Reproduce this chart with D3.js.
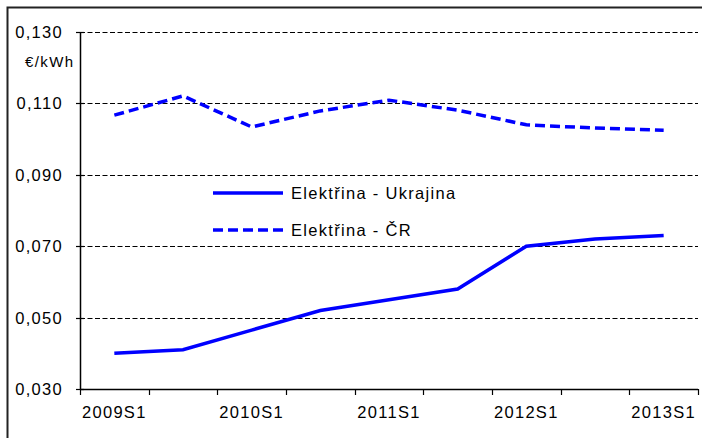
<!DOCTYPE html>
<html>
<head>
<meta charset="utf-8">
<script src="https://cdn.jsdelivr.net/npm/d3@7"></script>
<style>
  body { margin: 0; background: #fff; }
  svg { display: block; font-family: "Liberation Sans", Arial, sans-serif; }
</style>
</head>
<body>
<svg width="702" height="438"></svg>
<script>
// half-years on the x axis
var periods = ["2009S1", "2009S2", "2010S1", "2010S2", "2011S1", "2011S2", "2012S1", "2012S2", "2013S1"];
var tickLabels = ["2009S1", "2010S1", "2011S1", "2012S1", "2013S1"];
var yTicks = [0.03, 0.05, 0.07, 0.09, 0.11, 0.13];

// electricity price, EUR/kWh
var ukrajina = [0.040, 0.041, 0.0465, 0.052, 0.055, 0.058, 0.070, 0.072, 0.073];
var cr = [0.1067, 0.1121, 0.1034, 0.1079, 0.1109, 0.1081, 0.1040, 0.1031, 0.1025];

var seriesNames = ["Elektřina - Ukrajina", "Elektřina - ČR"];

var svg = d3.select("svg");
var blue = "#0000ff";
var fs = 16.5, ls = 1.3;

// outer frame
svg.append("rect")
    .attr("x", 7.5).attr("y", 7.5)
    .attr("width", 730).attr("height", 460)
    .attr("fill", "none")
    .attr("stroke", "#222")
    .attr("stroke-width", 2);

const plotL = 80, plotR = 698, plotT = 32, plotB = 389;

var x = d3.scaleBand().domain(periods).range([plotL, plotR]).padding(0);
var y = d3.scaleLinear().domain([0.03, 0.13]).range([plotB, plotT]);

var locale = d3.formatLocale({ decimal: ",", thousands: " ", grouping: [3], currency: ["", "€"] });
var fmt = locale.format(".3f");

// grid lines
svg.append("g")
    .selectAll("line")
    .data(yTicks.filter(d => d > 0.03))
    .join("line")
    .attr("x1", plotL).attr("x2", plotR)
    .attr("y1", d => Math.round(y(d)) + 0.5)
    .attr("y2", d => Math.round(y(d)) + 0.5)
    .attr("stroke", "#000")
    .attr("stroke-width", 1)
    .attr("stroke-dasharray", "5,2.5");

// y axis
var yAxis = svg.append("g");
yAxis.append("line")
    .attr("x1", plotL + 0.5).attr("x2", plotL + 0.5)
    .attr("y1", plotT).attr("y2", plotB)
    .attr("stroke", "#000").attr("stroke-width", 1.5);
yAxis.selectAll(".tk")
    .data(yTicks)
    .join("line")
    .attr("x1", plotL - 4).attr("x2", plotL + 4)
    .attr("y1", d => Math.round(y(d)) + 0.5)
    .attr("y2", d => Math.round(y(d)) + 0.5)
    .attr("stroke", "#000").attr("stroke-width", 1.2);
yAxis.selectAll("text")
    .data(yTicks)
    .join("text")
    .attr("x", 63)
    .attr("y", d => y(d))
    .attr("dy", "0.36em")
    .attr("text-anchor", "end")
    .attr("font-size", fs)
    .attr("letter-spacing", ls)
    .text(d => fmt(d));

svg.append("text")
    .attr("x", 25).attr("y", 67)
    .attr("font-size", 15)
    .attr("letter-spacing", 1.4)
    .text("€/kWh");

// x axis
var xAxis = svg.append("g");
xAxis.append("line")
    .attr("x1", plotL).attr("x2", plotR)
    .attr("y1", plotB + 0.5).attr("y2", plotB + 0.5)
    .attr("stroke", "#000").attr("stroke-width", 1.5);
var bounds = periods.map(p => x(p)).concat([plotR]);
xAxis.selectAll(".tk")
    .data(bounds)
    .join("line")
    .attr("x1", d => Math.round(d) + 0.5).attr("x2", d => Math.round(d) + 0.5)
    .attr("y1", plotB).attr("y2", plotB + 6)
    .attr("stroke", "#000").attr("stroke-width", 1.2);
xAxis.selectAll("text")
    .data(tickLabels)
    .join("text")
    .attr("x", d => x(d) + x.bandwidth() / 2)
    .attr("y", 418)
    .attr("text-anchor", "middle")
    .attr("font-size", fs)
    .attr("letter-spacing", ls)
    .text(d => d);

// lines
var line = d3.line()
    .x((d, i) => x(periods[i]) + x.bandwidth() / 2)
    .y(d => y(d));

svg.append("path")
    .attr("d", line(cr))
    .attr("fill", "none")
    .attr("stroke", blue)
    .attr("stroke-width", 3.5)
    .attr("stroke-dasharray", "10,5");

svg.append("path")
    .attr("d", line(ukrajina))
    .attr("fill", "none")
    .attr("stroke", blue)
    .attr("stroke-width", 3.5);

// legend
var legend = svg.append("g");
var legendY = [193, 230];
legend.selectAll("line")
    .data(seriesNames)
    .join("line")
    .attr("x1", 213).attr("x2", 283)
    .attr("y1", (d, i) => legendY[i]).attr("y2", (d, i) => legendY[i])
    .attr("stroke", blue)
    .attr("stroke-width", 3.5)
    .attr("stroke-dasharray", (d, i) => i ? "10,5" : null);
legend.selectAll("text")
    .data(seriesNames)
    .join("text")
    .attr("x", 291)
    .attr("y", (d, i) => legendY[i])
    .attr("dy", "0.36em")
    .attr("font-size", fs)
    .attr("letter-spacing", ls)
    .text(d => d);
</script>
</body>
</html>
